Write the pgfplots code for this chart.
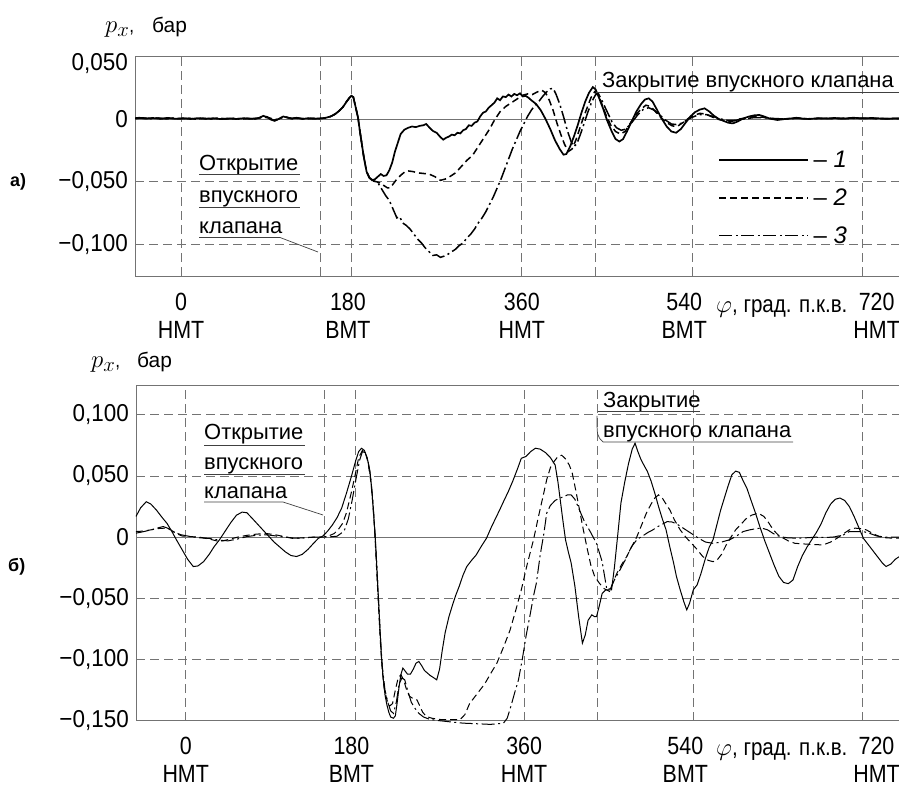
\documentclass[border=0pt]{standalone}
\usepackage{fontspec}
\setmainfont{Liberation Sans}[FakeStretch=0.86]
\newfontfamily\annfont{Liberation Sans}
\newfontfamily\ytfont{Liberation Sans}[FakeStretch=0.92]
\usepackage{pgfplots}
\pgfplotsset{compat=1.18}
\definecolor{gridc}{gray}{0.45}
\definecolor{annc}{gray}{0.25}
\newcommand{\tl}[2]{\raisebox{0pt}[\height][0pt]{\begin{tabular}{@{}c@{}}#1\\#2\end{tabular}}}
\pgfplotsset{
  panel/.style={
    scale only axis,
    axis x line*=box, axis y line*=left,
    axis line style={gridc, line width=0.8bp},
    major tick length=0pt,
    xtick={0,180,360,540,720},
    xticklabels={{\tl{0}{НМТ}},{\tl{180}{ВМТ}\hspace*{7bp}},{\tl{360}{НМТ}},{\tl{540}{ВМТ}\hspace*{16bp}},{\hspace*{28bp}\tl{720}{НМТ}}},
    xticklabel style={font=\fontsize{25}{28}\selectfont, inner sep=0pt, anchor=north, yshift=-15bp},
    yticklabel style={font=\ytfont\fontsize{24.5}{28}\selectfont, inner sep=0pt, xshift=-7bp},
    grid=major,
    major grid style={gridc, line width=0.8bp, dash pattern=on 9bp off 5bp},
    extra x ticks={147,438},
    extra x tick labels={},
    extra y ticks={0},
    extra y tick labels={},
    extra y tick style={major grid style={gridc, line width=0.8bp, solid}},
  },
  s1/.style={black, line width=#1, solid},
  s2/.style={black, line width=#1, dash pattern=on 7bp off 4bp},
  s3/.style={black, line width=#1, dash pattern=on 13bp off 3.5bp on 2bp off 3.5bp},
}
\begin{document}
\begin{tikzpicture}
\useasboundingbox (0,0) rectangle (899bp,786bp);
% ---------------- panel a ----------------
\begin{axis}[panel,
  at={(135bp,510bp)}, anchor=south west,
  width=764bp, height=219.6bp,
  xmin=-48.6, xmax=758.4, ymin=-0.1254, ymax=0.05,
  clip=true,
  ytick={-0.1,-0.05,0,0.05},
  yticklabels={{−0,100},{−0,050},{0},{\raisebox{-14bp}[0pt][0pt]{0,050}}},
  legend style={draw=none, fill=none, at={(axis cs:567.5,-0.0245)}, anchor=north west,
     inner sep=0pt, row sep=16.5bp, font=\annfont\fontsize{24}{24}\selectfont,
     nodes={inner sep=1.5bp}},
  legend image code/.code={\draw[#1] (0bp,0bp) -- (89bp,0bp);},
  legend cell align=left,
]
\addplot[s1=1.7bp] coordinates {
(-50,0.0005)(-44,0.0010)(-38,0.0003)(-30,0.0008)(-22,0.0002)(-14,0.0009)(-6,0.0001)(2,0.0006)(10,0.0000)(18,0.0007)(26,0.0002)(34,0.0006)(42,-0.0001)(50,0.0005)(58,0.0000)(66,0.0006)(74,0.0001)(82,0.0008)(87,0.0025)(91,0.0015)(95,-0.0005)(99,-0.0015)(103,0.0000)(108,0.0020)(112,0.0012)(117,0.0003)(122,0.0010)(128,0.0000)(134,0.0006)(140,0.0001)(145,0.0004)
(152,0.0008)(158,0.0020)(163,0.0040)(167,0.0065)(171,0.0095)(175,0.0140)(178,0.0170)(180,0.0185)(182,0.0175)(184,0.0110)(187,0.0010)(189,-0.0100)(191,-0.0200)(193,-0.0300)(196,-0.0420)(199,-0.0470)
(202,-0.0490)(205,-0.0480)(208,-0.0460)(211,-0.0440)(214,-0.0455)(217,-0.0450)(220,-0.0410)(223,-0.0350)(226,-0.0260)(229,-0.0190)(232,-0.0120)(236,-0.0085)(240,-0.0070)(244,-0.0060)(248,-0.0065)(252,-0.0055)(256,-0.0050)(259,-0.0040)(262,-0.0065)(266,-0.0095)(270,-0.0110)(274,-0.0145)(277,-0.0165)(280,-0.0150)(283,-0.0140)(286,-0.0125)(289,-0.0130)(292,-0.0110)(295,-0.0115)(298,-0.0090)(301,-0.0080)(304,-0.0050)(307,-0.0055)(310,-0.0030)(313,-0.0020)(316,0.0020)(319,0.0050)(322,0.0060)(325,0.0090)(328,0.0110)(331,0.0130)(334,0.0165)(337,0.0150)(340,0.0180)(343,0.0175)(346,0.0195)(349,0.0180)(352,0.0200)(355,0.0190)(358,0.0205)(361,0.0180)(364,0.0185)(367,0.0170)
(370,0.0150)(375,0.0120)(380,0.0070)(385,0.0000)(390,-0.0080)(395,-0.0170)(400,-0.0240)(404,-0.0285)(407,-0.0280)(411,-0.0220)(415,-0.0140)(419,-0.0050)(423,0.0050)(427,0.0140)(431,0.0210)(435,0.0255)(438,0.0235)(442,0.0160)(446,0.0080)(450,-0.0010)(455,-0.0100)(459,-0.0160)(463,-0.0180)(467,-0.0160)(471,-0.0100)(476,-0.0020)(481,0.0060)(486,0.0120)(490,0.0155)(494,0.0165)(498,0.0140)(503,0.0070)(508,0.0000)(513,-0.0060)(518,-0.0100)(523,-0.0110)(528,-0.0080)(533,-0.0030)(538,0.0020)(543,0.0055)(548,0.0075)(553,0.0085)(558,0.0060)(563,0.0025)(568,0.0000)(573,-0.0015)(578,-0.0030)(583,-0.0035)(588,-0.0020)(594,0.0005)(600,0.0020)(606,0.0030)(611,0.0032)(616,0.0020)(622,0.0003)(630,-0.0008)(638,0.0000)(645,0.0005)(650,0.0010)(656,0.0003)(664,0.0000)(672,0.0006)(680,0.0003)(690,0.0008)(700,0.0003)(710,0.0010)(720,0.0005)(730,0.0008)(745,0.0002)(760,0.0005)
};
\addlegendentry{\hspace*{3bp}– \textit{1}}
\addplot[s2=1.5bp] coordinates {
(-50,0.0002)(-42,0.0008)(-34,0.0004)(-26,0.0007)(-18,0.0000)(-10,0.0006)(-2,0.0002)(6,0.0007)(14,0.0001)(22,0.0005)(30,-0.0001)(38,0.0006)(46,0.0001)(54,0.0004)(62,-0.0001)(70,0.0005)(78,0.0000)(85,0.0012)(90,0.0018)(96,0.0002)(101,-0.0008)(106,0.0010)(111,0.0015)(118,0.0002)(125,0.0007)(132,0.0000)(139,0.0005)(145,0.0002)
(152,0.0008)(158,0.0020)(163,0.0040)(167,0.0065)(171,0.0095)(175,0.0140)(178,0.0170)(180,0.0185)(182,0.0175)(184,0.0110)(187,0.0010)(189,-0.0100)(191,-0.0200)(193,-0.0300)(196,-0.0420)(199,-0.0470)
(202,-0.0495)(206,-0.0500)(210,-0.0510)(214,-0.0530)(218,-0.0550)(221,-0.0550)(224,-0.0520)(228,-0.0480)(232,-0.0450)(236,-0.0425)(240,-0.0415)(245,-0.0420)(250,-0.0430)(256,-0.0435)(262,-0.0440)(268,-0.0460)(274,-0.0490)(279,-0.0480)(284,-0.0460)(290,-0.0430)(296,-0.0380)(302,-0.0330)(308,-0.0290)(314,-0.0220)(320,-0.0150)(326,-0.0080)(331,-0.0010)(337,0.0058)(343,0.0100)(349,0.0130)(355,0.0160)(361,0.0190)(366,0.0200)(371,0.0195)(376,0.0215)(381,0.0230)(385,0.0210)(389,0.0150)(393,0.0070)(397,-0.0030)(401,-0.0120)(405,-0.0200)(409,-0.0260)(413,-0.0240)(417,-0.0170)(421,-0.0080)(425,0.0010)(429,0.0090)(433,0.0170)(437,0.0218)(441,0.0190)(445,0.0110)(449,0.0030)(454,-0.0050)(459,-0.0100)(464,-0.0120)(469,-0.0100)(474,-0.0040)(480,0.0030)(486,0.0080)(491,0.0110)(496,0.0100)(501,0.0060)(507,0.0010)(513,-0.0030)(519,-0.0055)(524,-0.0060)(530,-0.0030)(536,0.0005)(542,0.0030)(548,0.0045)(554,0.0040)(560,0.0020)(566,0.0000)(572,-0.0010)(578,-0.0020)(584,-0.0015)(590,0.0000)(598,0.0010)(606,0.0020)(614,0.0015)(622,0.0005)(632,-0.0005)(642,0.0003)(652,0.0008)(662,0.0000)(675,0.0005)(690,0.0003)(705,0.0008)(720,0.0005)(740,0.0003)(760,0.0005)
};
\addlegendentry{\hspace*{3bp}– \textit{2}}
\addplot[s3=1.5bp] coordinates {
(-50,0.0004)(-40,0.0009)(-32,0.0002)(-24,0.0008)(-16,0.0001)(-8,0.0007)(0,0.0002)(8,0.0006)(16,-0.0001)(24,0.0005)(32,0.0001)(40,0.0007)(48,0.0000)(56,0.0006)(64,0.0001)(72,0.0004)(80,0.0002)(86,0.0015)(92,0.0010)(98,-0.0010)(104,0.0005)(110,0.0016)(116,0.0005)(123,0.0008)(130,0.0001)(137,0.0006)(145,0.0002)
(152,0.0008)(158,0.0020)(163,0.0040)(167,0.0065)(171,0.0095)(175,0.0140)(178,0.0170)(180,0.0185)(182,0.0175)(184,0.0110)(187,0.0010)(189,-0.0100)(191,-0.0200)(193,-0.0300)(196,-0.0420)(199,-0.0470)
(204,-0.0495)(208,-0.0510)(212,-0.0560)(216,-0.0610)(220,-0.0650)(224,-0.0720)(228,-0.0790)(231,-0.0780)(234,-0.0830)(238,-0.0850)(242,-0.0880)(246,-0.0920)(250,-0.0960)(254,-0.0990)(258,-0.1030)(262,-0.1060)(266,-0.1090)(270,-0.1085)(274,-0.1105)(278,-0.1095)(282,-0.1080)(286,-0.1060)(290,-0.1040)(294,-0.1010)(298,-0.0990)(302,-0.0950)(306,-0.0920)(310,-0.0880)(314,-0.0830)(318,-0.0790)(322,-0.0740)(326,-0.0680)(330,-0.0620)(334,-0.0550)(338,-0.0480)(342,-0.0400)(346,-0.0320)(350,-0.0240)(354,-0.0170)(358,-0.0100)(362,-0.0040)(366,0.0020)(370,0.0070)(374,0.0110)(378,0.0140)(382,0.0180)(386,0.0215)(390,0.0240)(393,0.0245)(396,0.0200)(400,0.0120)(404,0.0020)(408,-0.0090)(412,-0.0180)(415,-0.0220)(418,-0.0200)(422,-0.0120)(426,-0.0030)(430,0.0060)(434,0.0140)(438,0.0195)(441,0.0200)(445,0.0140)(450,0.0060)(455,-0.0020)(460,-0.0070)(465,-0.0090)(470,-0.0080)(476,-0.0030)(482,0.0030)(488,0.0075)(494,0.0090)(500,0.0070)(506,0.0030)(512,-0.0010)(518,-0.0040)(524,-0.0045)(530,-0.0030)(536,0.0000)(542,0.0020)(548,0.0035)(555,0.0035)(562,0.0020)(570,0.0000)(578,-0.0012)(586,-0.0010)(594,0.0000)(604,0.0010)(614,0.0012)(624,0.0005)(636,0.0000)(650,0.0005)(665,0.0002)(680,0.0006)(700,0.0003)(720,0.0006)(740,0.0003)(760,0.0004)
};
\addlegendentry{\hspace*{3bp}– \textit{3}}
\end{axis}
% ---------------- panel b ----------------
\begin{axis}[panel,
  at={(136bp,65.3bp)}, anchor=south west,
  width=763bp, height=335.7bp,
  xmin=-52.9, xmax=758.8, ymin=-0.15, ymax=0.1244,
  clip=false,
  xticklabel style={yshift=1bp},
  ytick={-0.15,-0.1,-0.05,0,0.05,0.1},
  yticklabels={{−0,150},{−0,100},{−0,050},{0},{0,050},{0,100}},
]
\addplot[s1=1bp] coordinates {
(-52.9,0.0170)(-48,0.0240)(-42,0.0290)(-37,0.0270)(-31,0.0220)(-25,0.0160)(-20,0.0114)(-15,0.0050)(-10,-0.0020)(-4,-0.0100)(2,-0.0180)(8,-0.0240)(13,-0.0235)(19,-0.0200)(25,-0.0140)(30,-0.0080)(36,-0.0020)(42,0.0050)(48,0.0120)(54,0.0180)(60,0.0205)(65,0.0200)(70,0.0160)(76,0.0110)(82,0.0060)(88,0.0010)(94,-0.0040)(100,-0.0080)(106,-0.0120)(112,-0.0150)(118,-0.0158)(124,-0.0140)(130,-0.0100)(136,-0.0050)(141,-0.0010)(146,0.0010)(151,0.0050)(156,0.0100)(161,0.0160)(166,0.0240)(171,0.0360)(176,0.0490)(181,0.0630)(184,0.0700)(187,0.0727)(190,0.0710)(193,0.0650)(196,0.0540)(198,0.0380)(200,0.0180)(202,-0.0050)(204,-0.0350)(206,-0.0650)(208,-0.0950)(210,-0.1150)(212,-0.1290)(214,-0.1370)(216,-0.1430)(218,-0.1470)(221,-0.1480)(223,-0.1460)(225,-0.1350)(227,-0.1220)(229,-0.1120)(231,-0.1070)(233,-0.1090)(236,-0.1120)(239,-0.1120)(242,-0.1080)(245,-0.1030)(248,-0.1016)(251,-0.1050)(254,-0.1090)(257,-0.1110)(260,-0.1130)(264,-0.1150)(267,-0.1166)(270,-0.1080)(273,-0.0920)(276,-0.0780)(280,-0.0650)(284,-0.0550)(287,-0.0480)(291,-0.0400)(295,-0.0310)(299,-0.0240)(304,-0.0190)(309,-0.0145)(314,-0.0080)(320,-0.0008)(325,0.0080)(330,0.0160)(334,0.0223)(338,0.0290)(343,0.0370)(348,0.0460)(353,0.0560)(357,0.0645)(362,0.0660)(367,0.0700)(372,0.0727)(377,0.0720)(383,0.0690)(388,0.0650)(393,0.0590)(396,0.0450)(398,0.0330)(401,0.0150)(404,-0.0020)(407,-0.0120)(410,-0.0210)(414,-0.0400)(418,-0.0650)(422,-0.0866)(425,-0.0800)(428,-0.0680)(432,-0.0635)(435,-0.0650)(437,-0.0650)(440,-0.0560)(443,-0.0460)(447,-0.0430)(453,-0.0430)(456,-0.0250)(460,0.0050)(463,0.0280)(467,0.0450)(471,0.0600)(475,0.0720)(478,0.0768)(481,0.0700)(484,0.0640)(488,0.0580)(491,0.0540)(495,0.0460)(499,0.0360)(503,0.0250)(507,0.0150)(511,0.0060)(515,-0.0080)(519,-0.0210)(522,-0.0320)(526,-0.0430)(530,-0.0530)(533,-0.0594)(536,-0.0540)(540,-0.0430)(544,-0.0390)(548,-0.0300)(553,-0.0170)(557,-0.0080)(561,-0.0020)(565,0.0100)(569,0.0220)(573,0.0320)(577,0.0420)(581,0.0510)(585,0.0540)(589,0.0530)(593,0.0460)(597,0.0400)(601,0.0310)(606,0.0200)(611,0.0080)(616,-0.0030)(621,-0.0130)(626,-0.0230)(631,-0.0320)(636,-0.0370)(641,-0.0380)(646,-0.0350)(651,-0.0240)(656,-0.0150)(661,-0.0080)(666,-0.0020)(671,0.0040)(676,0.0110)(681,0.0200)(686,0.0270)(691,0.0310)(696,0.0320)(701,0.0300)(706,0.0250)(711,0.0170)(716,0.0080)(721,-0.0010)(726,-0.0060)(731,-0.0110)(736,-0.0160)(741,-0.0210)(745,-0.0240)(750,-0.0220)(755,-0.0180)(758.8,-0.0160)
};
\addplot[s2=1bp] coordinates {
(-52.9,0.0046)(-45,0.0050)(-37,0.0060)(-30,0.0070)(-22,0.0074)(-16,0.0060)(-10,0.0030)(-4,0.0010)(5,0.0005)(15,0.0000)(25,-0.0015)(36,-0.0036)(45,-0.0020)(55,0.0000)(65,0.0015)(75,0.0025)(86,0.0030)(95,0.0020)(105,0.0005)(114,-0.0010)(125,-0.0005)(135,0.0000)(146,0.0000)(152,0.0010)(158,0.0030)(163,0.0070)(167,0.0114)(171,0.0200)(176,0.0360)(180,0.0500)(184,0.0650)(188,0.0710)(191,0.0690)(194,0.0610)(197,0.0450)(199,0.0280)(201,0.0050)(203,-0.0250)(205,-0.0550)(207,-0.0850)(209,-0.1080)(211,-0.1230)(214,-0.1330)(217,-0.1380)(220,-0.1360)(223,-0.1250)(226,-0.1150)(229,-0.1125)(232,-0.1170)(235,-0.1250)(238,-0.1300)(242,-0.1320)(246,-0.1330)(249,-0.1380)(252,-0.1430)(256,-0.1466)(262,-0.1480)(270,-0.1490)(280,-0.1492)(292,-0.1490)(297,-0.1450)(302,-0.1360)(307,-0.1310)(313,-0.1250)(318,-0.1200)(324,-0.1120)(331,-0.1030)(338,-0.0900)(345,-0.0760)(351,-0.0600)(357,-0.0430)(363,-0.0230)(370,-0.0020)(375,0.0160)(380,0.0330)(384,0.0470)(388,0.0570)(392,0.0620)(396,0.0660)(400,0.0670)(404,0.0640)(408,0.0590)(411,0.0530)(415,0.0380)(419,0.0220)(423,0.0060)(427,-0.0090)(431,-0.0230)(435,-0.0320)(440,-0.0376)(445,-0.0420)(451,-0.0444)(455,-0.0360)(459,-0.0290)(464,-0.0220)(469,-0.0160)(475,-0.0070)(480,0.0005)(485,0.0100)(490,0.0196)(495,0.0270)(499,0.0320)(503,0.0346)(507,0.0320)(511,0.0270)(515,0.0223)(520,0.0140)(526,0.0060)(532,0.0000)(538,-0.0050)(544,-0.0100)(550,-0.0158)(556,-0.0190)(561,-0.0200)(565,-0.0190)(570,-0.0140)(575,-0.0063)(580,0.0000)(585,0.0060)(590,0.0100)(596,0.0150)(602,0.0180)(609,0.0196)(615,0.0170)(620,0.0120)(625,0.0060)(630,0.0020)(635,-0.0005)(641,-0.0030)(648,-0.0050)(657,-0.0055)(667,-0.0060)(678,-0.0063)(686,-0.0040)(693,-0.0008)(700,0.0030)(706,0.0060)(712,0.0074)(718,0.0070)(724,0.0060)(731,0.0030)(738,0.0005)(745,-0.0005)(752,-0.0008)(758.8,-0.0008)
};
\addplot[s3=1bp] coordinates {
(-52.9,0.0033)(-45,0.0045)(-37,0.0060)(-30,0.0075)(-24,0.0087)(-18,0.0070)(-12,0.0040)(-5,0.0020)(5,0.0005)(15,-0.0005)(25,-0.0010)(36,-0.0025)(45,-0.0030)(55,-0.0015)(65,0.0005)(75,0.0015)(86,0.0020)(96,0.0010)(106,0.0000)(116,-0.0008)(126,-0.0005)(136,0.0000)(146,0.0002)(154,0.0003)(161,0.0008)(165,0.0030)(169,0.0060)(173,0.0150)(177,0.0300)(181,0.0470)(185,0.0630)(188,0.0700)(191,0.0690)(194,0.0620)(197,0.0470)(199,0.0300)(201,0.0080)(203,-0.0200)(205,-0.0500)(207,-0.0800)(209,-0.1050)(212,-0.1250)(215,-0.1350)(218,-0.1420)(221,-0.1440)(224,-0.1350)(227,-0.1200)(230,-0.1150)(233,-0.1166)(236,-0.1250)(240,-0.1350)(244,-0.1400)(248,-0.1440)(253,-0.1470)(260,-0.1490)(270,-0.1500)(282,-0.1510)(295,-0.1520)(310,-0.1525)(324,-0.1530)(332,-0.1525)(338,-0.1520)(342,-0.1480)(346,-0.1380)(350,-0.1270)(354,-0.1166)(358,-0.1000)(362,-0.0810)(366,-0.0650)(370,-0.0480)(373,-0.0376)(377,-0.0150)(381,0.0030)(384,0.0196)(388,0.0260)(393,0.0300)(398,0.0320)(402,0.0330)(406,0.0345)(410,0.0346)(414,0.0310)(419,0.0220)(424,0.0130)(430,0.0050)(437,-0.0050)(443,-0.0200)(448,-0.0430)(452,-0.0420)(456,-0.0350)(462,-0.0267)(468,-0.0180)(474,-0.0080)(480,-0.0020)(486,0.0010)(492,0.0040)(497,0.0060)(503,0.0090)(508,0.0110)(512,0.0127)(517,0.0125)(522,0.0110)(528,0.0080)(534,0.0050)(540,0.0020)(546,-0.0010)(553,-0.0040)(561,-0.0050)(570,-0.0040)(579,-0.0020)(586,0.0010)(593,0.0046)(600,0.0060)(607,0.0070)(613,0.0074)(619,0.0060)(625,0.0030)(632,0.0005)(640,-0.0005)(650,-0.0008)(660,-0.0005)(670,0.0000)(680,-0.0003)(690,0.0002)(700,0.0020)(706,0.0046)(713,0.0046)(721,0.0046)(728,0.0030)(735,0.0010)(745,0.0000)(758.8,0.0000)
};
\end{axis}
% ---------------- texts ----------------
\node[anchor=base west, inner sep=0pt] at (105bp,753bp) {\fontsize{31}{31}\selectfont$p_x$\fontsize{20}{20}\selectfont,};
\node[anchor=base west, inner sep=0pt, font=\annfont\fontsize{21}{21}\selectfont] at (152bp,753bp) {бар};
\node[anchor=base west, inner sep=0pt] at (91bp,418bp) {\fontsize{31}{31}\selectfont$p_x$\fontsize{20}{20}\selectfont,};
\node[anchor=base west, inner sep=0pt, font=\annfont\fontsize{21}{21}\selectfont] at (137bp,418bp) {бар};
\node[anchor=base west, inner sep=0pt, font=\annfont\bfseries\fontsize{18}{18}\selectfont] at (10bp,599bp) {а)};
\node[anchor=base west, inner sep=0pt, font=\annfont\bfseries\fontsize{18}{18}\selectfont] at (8bp,214bp) {б)};
\node[anchor=base west, inner sep=0pt, font=\fontsize{24}{24}\selectfont] at (716bp,473bp) {$\varphi$, град. п.к.в.};
\node[anchor=base west, inner sep=0pt, font=\fontsize{24}{24}\selectfont] at (716bp,31bp) {$\varphi$, град. п.к.в.};
% annotations
\begin{scope}[font=\annfont\fontsize{22}{22}\selectfont]
\node[anchor=base west, inner sep=0pt] at (199bp,615bp) {Открытие};
\node[anchor=base west, inner sep=0pt] at (199bp,583bp) {впускного};
\node[anchor=base west, inner sep=0pt] at (199bp,552bp) {клапана};
\node[anchor=base west, inner sep=0pt] at (602bp,698bp) {Закрытие впускного клапана};
\node[anchor=base west, inner sep=0pt] at (204bp,346bp) {Открытие};
\node[anchor=base west, inner sep=0pt] at (204bp,316bp) {впускного};
\node[anchor=base west, inner sep=0pt] at (204bp,287bp) {клапана};
\node[anchor=base west, inner sep=0pt] at (603bp,378bp) {Закрытие};
\node[anchor=base west, inner sep=0pt] at (603bp,348bp) {впускного клапана};
\end{scope}
\begin{scope}[annc, line width=0.7bp]
\draw (199bp,611.5bp) -- (300bp,611.5bp);
\draw (199bp,579bp) -- (300bp,579bp);
\draw (199bp,548.5bp) -- (280bp,548.5bp) -- (318bp,534bp);
\draw (596bp,693.5bp) -- (899bp,693.5bp);
\draw (204bp,341bp) -- (305bp,341bp);
\draw (204bp,312bp) -- (305bp,312bp);
\draw (204bp,284bp) -- (283bp,284bp) -- (323bp,271bp);
\draw (598bp,375bp) -- (700bp,375bp);
\draw (597bp,370bp) .. controls (597bp,350bp) .. (603bp,344bp) -- (793bp,344bp);
\end{scope}
\end{tikzpicture}
\end{document}
